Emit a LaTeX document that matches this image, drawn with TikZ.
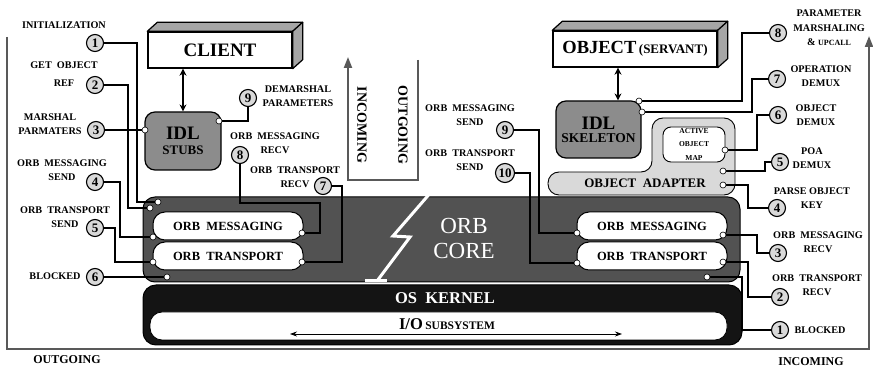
\documentclass[tikz,border=0pt]{standalone}
\usepackage{fontspec}
\setmainfont{Liberation Serif}
\usetikzlibrary{arrows.meta}
\pgfdeclarelayer{front}
\pgfdeclarelayer{back}
\pgfsetlayers{back,main,front}
\newcommand\fs[1]{\fontsize{#1}{#1}\selectfont}
\tikzset{
 lab/.style={font=\bfseries\fontsize{10.2}{14.5}\selectfont, align=center, inner sep=0pt},
 num/.style={circle, draw, line width=1.1pt, fill=black!15, minimum size=17pt, inner sep=0pt, font=\bfseries\fs{13}},
 pin/.style={circle, draw, line width=0.6pt, fill=white, minimum size=6pt, inner sep=0pt},
 wire/.style={line width=1.2pt, line join=miter},
 frame/.style={line width=2pt, draw=black!65, line join=miter},
 tri/.style={-{Triangle[length=11pt,width=8pt]}},
 dbl/.style={line width=1.3pt, {Stealth[length=7pt,width=7pt]}-{Stealth[length=7pt,width=7pt]}},
 front3d/.style={draw, line width=1.4pt, fill=white, inner sep=0pt, font=\bfseries},
 face/.style={draw, line width=1.2pt, fill=black!35, line join=round},
 idl/.style={draw, line width=1.2pt, fill=black!45, rounded corners=10pt, inner sep=0pt, align=center, font=\bfseries},
 orbbox/.style={draw, line width=1pt, fill=white, rounded corners=12pt, minimum width=150pt, minimum height=28pt, inner sep=0pt, font=\bfseries\fs{12.5}},
}
\begin{document}
\begin{tikzpicture}[x=1pt,y=-1pt]
\useasboundingbox (0,0) rectangle (873,371);

% ---- outer frame and central U
\coordinate (fa) at (7,37);
\coordinate (fb) at (7,349);
\coordinate (fc) at (869,349);
\coordinate (fd) at (869,36);
\draw[frame, tri] (fa) -- (fb) -- (fc) -- (fd);
\coordinate (ua) at (418,60);
\coordinate (ub) at (418,180);
\coordinate (uc) at (348,180);
\coordinate (ud) at (348,57);
\draw[frame, tri] (ua) -- (ub) -- (uc) -- (ud);
\node[rotate=-90, font=\bfseries\fs{14}] (tin) at (362,125) {INCOMING};
\node[rotate=-90, font=\bfseries\fs{14}] (tout) at (403,125) {OUTGOING};
\node[font=\bfseries\fs{12}] (bout) at (67,360) {OUTGOING};
\node[font=\bfseries\fs{12}] (binc) at (811,362) {INCOMING};

% ---- client / object 3D boxes
\node[front3d, minimum width=144pt, minimum height=36pt, font=\bfseries\fs{19}] (client) at (220,50) {CLIENT};
\draw[face] (client.north west) -- ++(10,-9) -- ([shift={(10,-9)}]client.north east) -- (client.north east) -- cycle;
\draw[face] (client.north east) -- ++(10,-9) -- ([shift={(10,-9)}]client.south east) -- (client.south east) -- cycle;
\node[front3d, minimum width=164pt, minimum height=36pt] (obj) at (635,49) {{\fs{18.5}OBJECT} {\fs{13}(SERVANT)}};
\draw[face] (obj.north west) -- ++(10,-9) -- ([shift={(10,-9)}]obj.north east) -- (obj.north east) -- cycle;
\draw[face] (obj.north east) -- ++(10,-9) -- ([shift={(10,-9)}]obj.south east) -- (obj.south east) -- cycle;

% ---- IDL boxes
\node[idl, minimum width=76pt, minimum height=58pt] (stubs) at (183,141) {{\fs{19}IDL}\\[3pt]{\fs{13}STUBS}};
\node[idl, minimum width=85pt, minimum height=57pt] (skel) at (598.5,129.5) {{\fs{19}IDL}\\[1pt]{\fs{13.5}SKELETON}};
\draw[dbl] (stubs.north) -- (stubs.north |- client.south);
\draw[dbl] ([xshift=19.5pt]skel.north) -- ([xshift=19.5pt]skel.north |- obj.south);

% ---- object adapter
\draw[line width=0.9pt, fill=black!15, rounded corners=11pt] (548,172) -- (652,172) -- (652,118) -- (735,118) -- (735,195) -- (548,195) -- cycle;
\node[font=\bfseries\fs{13}] (adapt) at (645,183.5) {OBJECT\enspace ADAPTER};
\node[draw, line width=0.9pt, fill=white, rounded corners=8pt, minimum width=62pt, minimum height=35pt, inner sep=0pt, align=center, font=\bfseries\fontsize{7.5}{13.5}\selectfont] (aom) at (694,144.5) {ACTIVE\\OBJECT\\MAP};

% ---- ORB core
\node[draw, line width=1pt, fill=black!68, rounded corners=12pt, minimum width=597pt, minimum height=85pt] (core) at (441.5,239.5) {};
\node[text=white, align=center, font=\fontsize{23}{25}\selectfont] (coretxt) at (464,238) {ORB\\CORE};
\coordinate (b1) at (432,191);
\coordinate (b2) at (393,236);
\coordinate (b3) at (410,237);
\coordinate (b4) at (377,281);
\coordinate (b5) at (365,281);
\coordinate (b6) at (387,281);
\draw[white, line width=3pt, line join=miter] (b1) -- (b2) -- (b3) -- (b4);
\draw[white, line width=3pt] (b5) -- (b6);
\node[orbbox] (lmsg) at (228,226) {ORB\enspace MESSAGING};
\node[orbbox] (ltrn) at (228,256) {ORB\enspace TRANSPORT};
\node[orbbox] (rmsg) at (652,226) {ORB\enspace MESSAGING};
\node[orbbox] (rtrn) at (652,256) {ORB\enspace TRANSPORT};

% ---- OS kernel
\node[draw, line width=1pt, fill=black!92, rounded corners=13pt, minimum width=599pt, minimum height=60pt] (kern) at (442.5,315) {};
\node[text=white, font=\bfseries\fs{16.5}] (kerntxt) at (445,298.5) {OS\enspace KERNEL};
\node[draw, line width=0.8pt, fill=white, rounded corners=12pt, minimum width=577pt, minimum height=28pt] (io) at (438.5,326) {};
\node[font=\bfseries, inner sep=0pt] (iotxt) at (447,324) {{\fs{16.5}I/O} {\fs{11.5}SUBSYSTEM}};
\coordinate (ioa) at (290,334);
\coordinate (iob) at (622,334);
\draw[line width=0.8pt, {Stealth[length=7pt,width=5pt]}-{Stealth[length=7pt,width=5pt]}] (ioa) -- (iob);

% ---- pins and numbers (front layer)
\begin{pgfonlayer}{front}
\node[pin] (pA1) at (158,202) {};
\node[pin] (pA2) at (150,208) {};
\node[pin] (pL3) at (145,130) {};
\node[pin] (pS9) at (219,121) {};
\node[pin] (pLm) at (153,237) {};
\node[pin] (pLt) at (153,262) {};
\node[pin] (pLb) at (167,277) {};
\node[pin] (pRm8) at (302,233) {};
\node[pin] (pRt7) at (302,262) {};
\node[pin] (pRm9) at (577,233) {};
\node[pin] (pRt10) at (577,263) {};
\node[pin] (pK8) at (639,101) {};
\node[pin] (pK7) at (642,112) {};
\node[pin] (pM6) at (725,150) {};
\node[pin] (pM5) at (723,171) {};
\node[pin] (pM4) at (723,185) {};
\node[pin] (pR3) at (723,235) {};
\node[pin] (pR2) at (723,262) {};
\node[pin] (pR1) at (707,277) {};

\node[num] (n1) at (95,43) {1};
\node[num] (n2) at (95,85) {2};
\node[num] (n3) at (96,130) {3};
\node[num] (n4) at (95,182) {4};
\node[num] (n5) at (95,228) {5};
\node[num] (n6) at (95,277) {6};
\node[num] (c9) at (248,98) {9};
\node[num] (c8) at (240,155) {8};
\node[num] (c7) at (323,186) {7};
\node[num] (d9) at (505,130) {9};
\node[num, minimum size=19pt] (d10) at (505,173) {10};
\node[num] (r8) at (778,33) {8};
\node[num] (r7) at (777,79) {7};
\node[num] (r6) at (778,115) {6};
\node[num] (r5) at (780,162) {5};
\node[num] (r4) at (777,208) {4};
\node[num] (r3) at (778,253) {3};
\node[num] (r2) at (780,297) {2};
\node[num] (r1) at (780,330) {1};
\end{pgfonlayer}

% ---- wires
\draw[wire] (n1) -- ++(42,0) |- (pA1);
\draw[wire] (n2) -- ++(33,0) |- (pA2);
\draw[wire] (n3) -- (pL3);
\draw[wire] (n4) -- ++(25,0) |- (pLm);
\draw[wire] (n5) -- ++(20,0) |- (pLt);
\draw[wire] (n6) -- (pLb);
\draw[wire] (c9) |- (pS9);
\draw[wire] (c8) -- ++(0,48) -- ++(80,0) |- (pRm8);
\draw[wire] (c7) -- ++(19,0) |- (pRt7);
\draw[wire] (d9) -- ++(34,0) |- (pRm9);
\draw[wire] (d10) -- ++(25,0) |- (pRt10);
\draw[wire] (r8) -- ++(-36,0) |- (pK8);
\draw[wire] (r7) -- ++(-25,0) |- (pK7);
\draw[wire] (r6) -- ++(-21,0) |- (pM6);
\draw[wire] (r5) -- ++(-15,0) |- (pM5);
\draw[wire] (pM4) -- ++(25,0) |- (r4);
\draw[wire] (pR3) -- ++(34,0) |- (r3);
\draw[wire] (pR2) -- ++(25,0) |- (r2);
\draw[wire] (pR1) -- ++(35,0) |- (r1);

% ---- labels
\node[lab] (t1) at (64,25) {INITIALIZATION};
\node[lab] (t2) at (64,74) {GET\enspace OBJECT\\[3pt]REF};
\node[lab] (t3) at (50,124) {MARSHAL\\PARMATERS};
\node[lab] (t4) at (62,170) {ORB\enspace MESSAGING\\SEND};
\node[lab] (t5) at (65,217) {ORB\enspace TRANSPORT\\SEND};
\node[lab] (t6) at (55,276) {BLOCKED};
\node[lab] (u9) at (298,96) {DEMARSHAL\\PARAMETERS};
\node[lab] (u8) at (275,143) {ORB\enspace MESSAGING\\RECV};
\node[lab] (u7) at (295,177) {ORB\enspace TRANSPORT\\RECV};
\node[lab] (v9) at (470,115) {ORB\enspace MESSAGING\\SEND};
\node[lab] (v10) at (470,160) {ORB\enspace TRANSPORT\\SEND};
\node[lab] (w8) at (829,28) {PARAMETER\\MARSHALING\\\& {\fs{8}UPCALL}};
\node[lab] (w7) at (821,76) {OPERATION\\DEMUX};
\node[lab] (w6) at (816,115) {OBJECT\\DEMUX};
\node[lab] (w5) at (812,158) {POA\\DEMUX};
\node[lab] (w4) at (812,198) {PARSE OBJECT\\KEY};
\node[lab] (w3) at (818,242) {ORB\enspace MESSAGING\\RECV};
\node[lab] (w2) at (817,285) {ORB\enspace TRANSPORT\\RECV};
\node[lab] (w1) at (820,330) {BLOCKED};
\end{tikzpicture}
\end{document}
